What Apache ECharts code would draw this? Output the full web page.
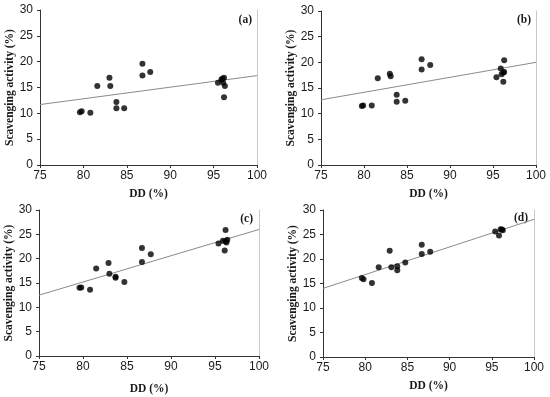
<!DOCTYPE html>
<html>
<head>
<meta charset="utf-8">
<script src="https://cdn.jsdelivr.net/npm/echarts@6/dist/echarts.min.js"></script>
<style>html,body{margin:0;padding:0;background:#fff;}#c{width:550px;height:397px;}</style>
</head>
<body>
<div id="c"></div>
<script>
// DD (%) values and scavenging activity (%) for each panel
var ddA = [79.6, 79.8, 80.8, 81.6, 83.0, 83.1, 83.8, 83.8, 84.7, 86.8, 86.8, 87.7, 95.5, 95.9, 96.0, 96.2, 96.1, 96.3, 96.2];
var scA = [10.2, 10.4, 10.1, 15.3, 16.9, 15.3, 12.2, 11.0, 11.0, 19.6, 17.3, 18.0, 15.9, 16.5, 16.7, 16.9, 15.9, 15.3, 13.1];

var ddB = [79.75, 79.9, 80.9, 81.6, 83.0, 83.1, 83.8, 83.8, 84.8, 86.7, 86.7, 87.7, 95.4, 95.9, 96.0, 96.2, 96.3, 96.3, 96.2];
var scB = [11.5, 11.6, 11.6, 16.9, 17.8, 17.3, 13.7, 12.3, 12.5, 20.6, 18.6, 19.5, 17.1, 18.8, 17.7, 18.0, 18.1, 20.4, 16.2];

var ddC = [79.6, 79.8, 80.8, 81.5, 82.9, 83.0, 83.7, 83.7, 84.7, 86.7, 86.7, 87.7, 95.4, 95.9, 96.1, 96.2, 96.2, 96.3, 96.4];
var scC = [14.0, 14.1, 13.6, 18.0, 19.1, 16.9, 16.1, 16.3, 15.2, 22.2, 19.3, 20.9, 23.1, 23.7, 21.7, 25.9, 23.6, 23.3, 23.9];

var ddD = [79.6, 79.8, 80.8, 81.6, 82.9, 83.1, 83.8, 83.8, 84.75, 86.7, 86.7, 87.7, 95.4, 95.85, 96.05, 96.2, 96.3];
var scD = [16.1, 15.85, 15.1, 18.3, 21.7, 18.3, 18.5, 17.7, 19.3, 22.9, 21.0, 21.5, 25.6, 24.8, 26.05, 26.0, 25.85];

// linear trend line end points (at DD = 75 and 100)
var trendX = [75, 100];
var trendA = [11.7, 17.3];
var trendB = [12.7, 20.0];
var trendC = [12.5, 26.0];
var trendD = [14.0, 28.1];

var panelLabels = ['(a)', '(b)', '(c)', '(d)'];
var xName = 'DD (%)';
var yName = 'Scavenging activity (%)';

var panels = [
  {dd: ddA, sc: scA, tr: trendA},
  {dd: ddB, sc: scB, tr: trendB},
  {dd: ddC, sc: scC, tr: trendC},
  {dd: ddD, sc: scD, tr: trendD}
];

var grids = [
  {left: 40, top: 10, width: 217, height: 155},
  {left: 321, top: 11, width: 215, height: 154},
  {left: 39, top: 210, width: 220, height: 146},
  {left: 323, top: 210, width: 211, height: 147}
];
var xNameGaps = [23.5, 23, 27.5, 23.5];
var yNameGaps = [21, 22, 24, 21];
var labelPos = [[252, 20], [531, 20], [253, 219], [528, 218]];

var sansFont = '"Liberation Sans", Arial, sans-serif';
var serifFont = '"Liberation Serif", "Times New Roman", serif';

var xAxes = [], yAxes = [], series = [], graphics = [];
panels.forEach(function (p, i) {
  xAxes.push({
    type: 'value', gridIndex: i, min: 75, max: 100, interval: 5,
    name: xName, nameLocation: 'middle', nameGap: xNameGaps[i],
    nameTextStyle: {fontFamily: serifFont, fontWeight: 'bold', fontSize: 11.5, color: '#1a1a1a'},
    axisLine: {show: true, lineStyle: {color: '#333', width: 1}},
    axisTick: {show: true, length: 3, lineStyle: {color: '#333'}},
    axisLabel: {fontFamily: sansFont, fontSize: 12, color: '#1a1a1a', margin: 5},
    splitLine: {show: false}
  });
  yAxes.push({
    type: 'value', gridIndex: i, min: 0, max: 30, interval: 5,
    name: yName, nameLocation: 'middle', nameGap: yNameGaps[i], nameRotate: 90,
    nameTextStyle: {fontFamily: serifFont, fontWeight: 'bold', fontSize: 11.5, color: '#1a1a1a'},
    axisLine: {show: true, lineStyle: {color: '#333', width: 1}},
    axisTick: {show: true, length: 3, lineStyle: {color: '#333'}},
    axisLabel: {fontFamily: sansFont, fontSize: 12, color: '#1a1a1a', margin: 7},
    splitLine: {show: false}
  });
  yAxes.push({
    type: 'value', gridIndex: i, min: 0, max: 30, position: 'right',
    axisLine: {show: true, lineStyle: {color: '#c8c8c8', width: 1}},
    axisTick: {show: false}, axisLabel: {show: false}, splitLine: {show: false}
  });
  series.push({
    type: 'line', xAxisIndex: i, yAxisIndex: i * 2,
    data: trendX.map(function (x, k) { return [x, p.tr[k]]; }),
    symbol: 'none', lineStyle: {color: '#8a8a8a', width: 1}, silent: true, z: 1
  });
  series.push({
    type: 'scatter', xAxisIndex: i, yAxisIndex: i * 2,
    data: p.dd.map(function (x, k) { return [x, p.sc[k]]; }),
    symbol: 'circle', symbolSize: 6, itemStyle: {color: '#000'}, z: 3
  });
  graphics.push({
    type: 'text', x: labelPos[i][0], y: labelPos[i][1],
    style: {text: panelLabels[i], fontFamily: serifFont, fontWeight: 'bold', fontSize: 11.5,
            fill: '#1a1a1a', textAlign: 'right', textVerticalAlign: 'middle'}
  });
});

var chart = echarts.init(document.getElementById('c'), null, {renderer: 'canvas'});
chart.setOption({
  animation: false,
  backgroundColor: '#fff',
  grid: grids,
  xAxis: xAxes,
  yAxis: yAxes,
  series: series,
  graphic: graphics
});
</script>
</body>
</html>
